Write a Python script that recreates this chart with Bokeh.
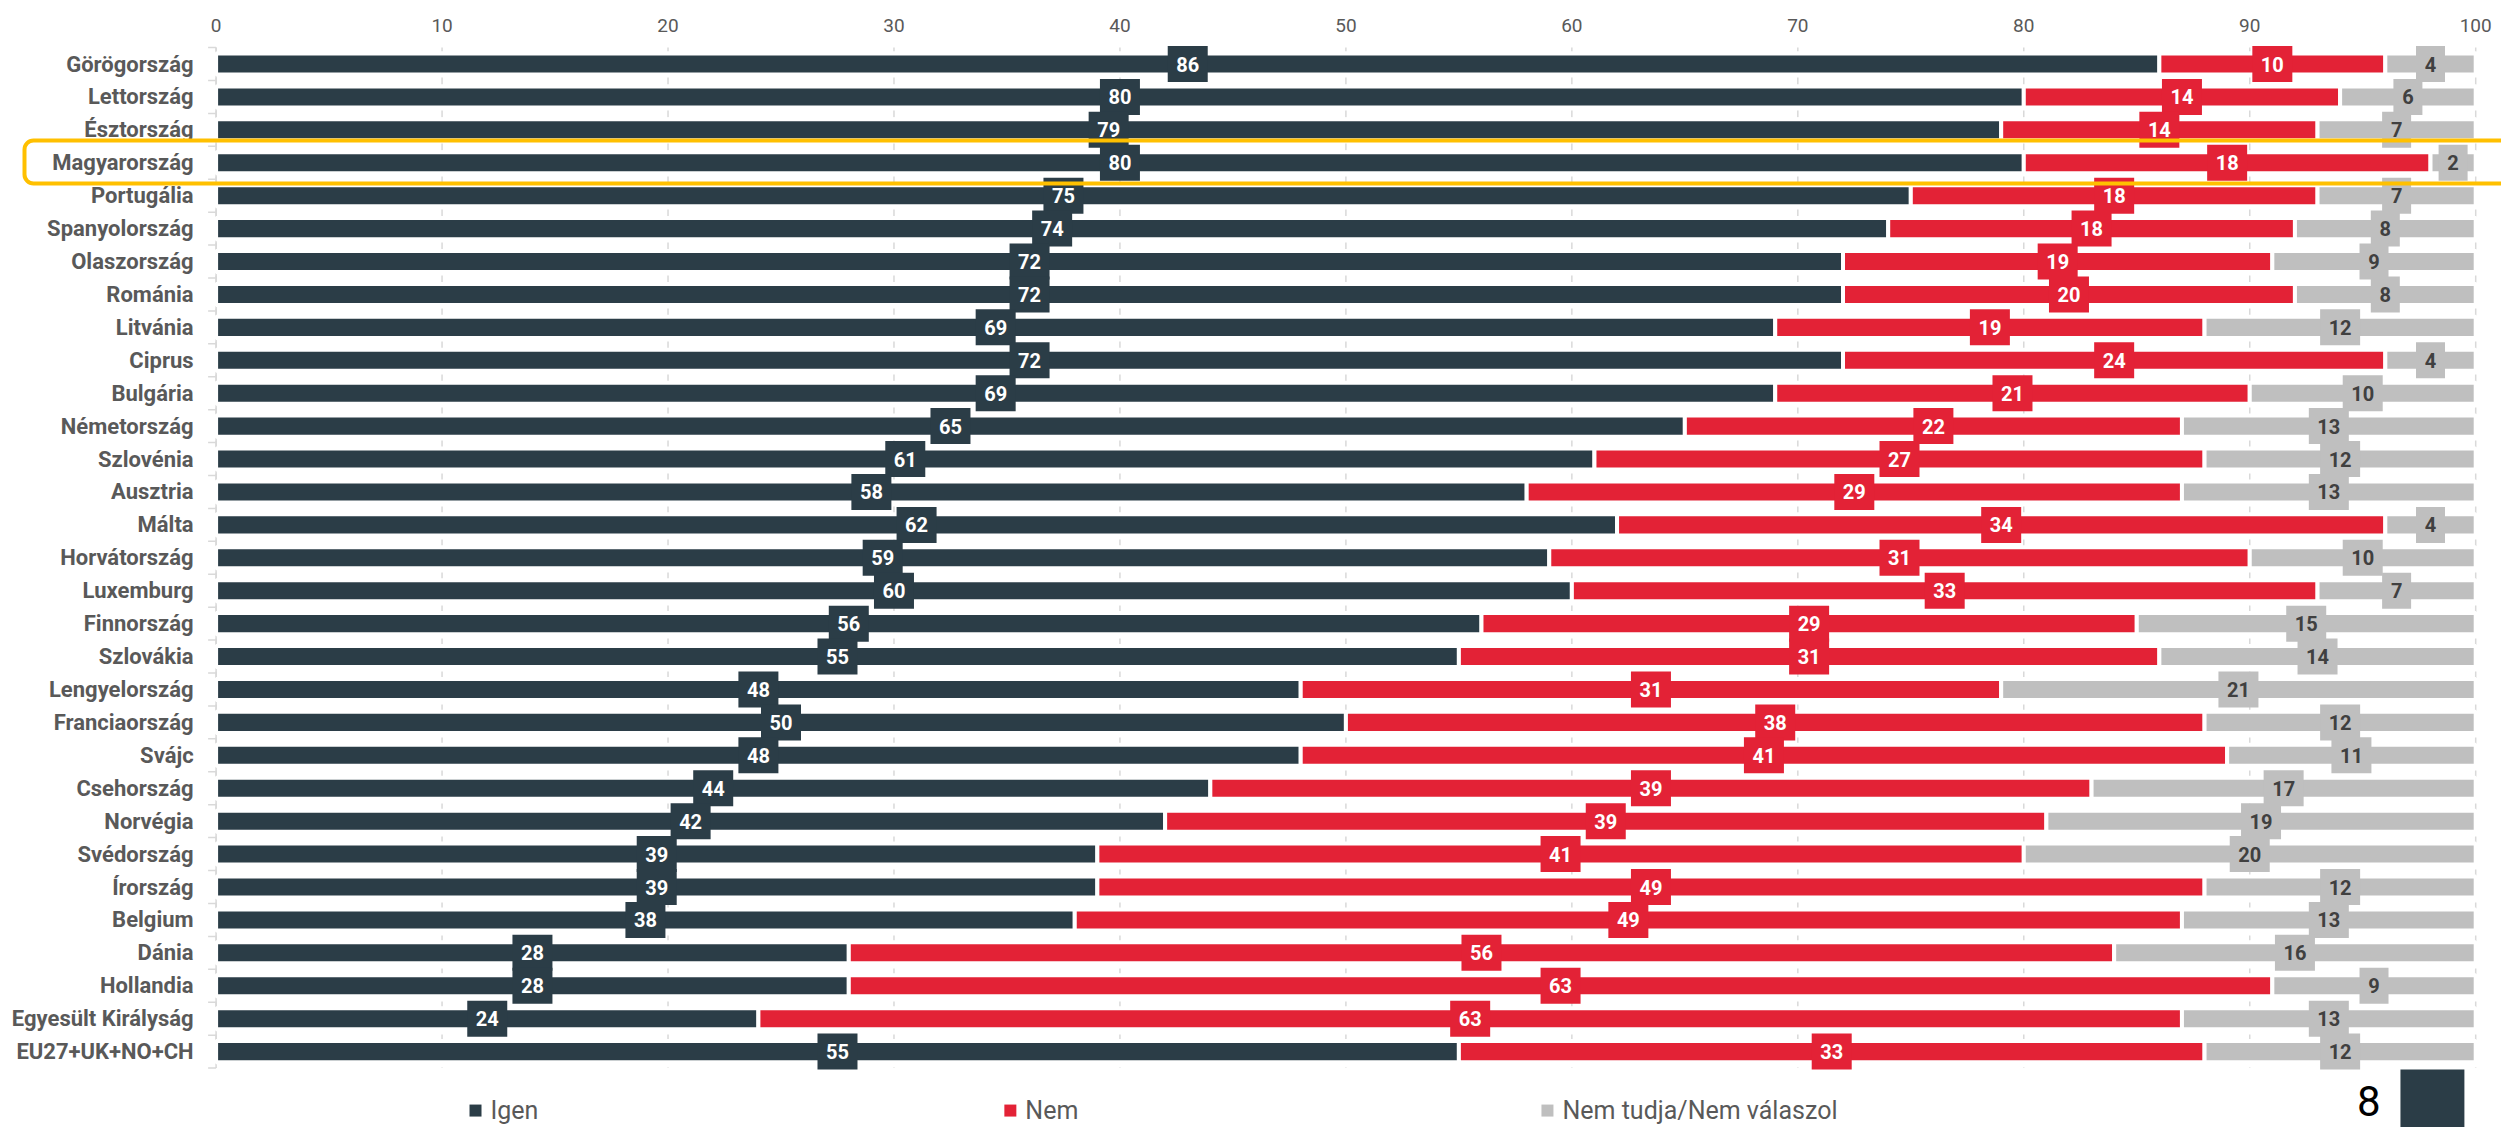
from bokeh.plotting import figure
from bokeh.models import Range1d, BoxAnnotation, Label, ColumnDataSource
from bokeh.core.properties import value
from bokeh.embed import file_html
from bokeh.resources import INLINE

# ---------------- data ----------------
countries = ["Görögország", "Lettország", "Észtország", "Magyarország", "Portugália",
             "Spanyolország", "Olaszország", "Románia", "Litvánia", "Ciprus",
             "Bulgária", "Németország", "Szlovénia", "Ausztria", "Málta",
             "Horvátország", "Luxemburg", "Finnország", "Szlovákia", "Lengyelország",
             "Franciaország", "Svájc", "Csehország", "Norvégia", "Svédország",
             "Írország", "Belgium", "Dánia", "Hollandia", "Egyesült Királyság",
             "EU27+UK+NO+CH"]
igen = [86, 80, 79, 80, 75, 74, 72, 72, 69, 72, 69, 65, 61, 58, 62, 59, 60, 56, 55,
        48, 50, 48, 44, 42, 39, 39, 38, 28, 28, 24, 55]
nem = [10, 14, 14, 18, 18, 18, 19, 20, 19, 24, 21, 22, 27, 29, 34, 31, 33, 29, 31,
       31, 38, 41, 39, 39, 41, 49, 49, 56, 63, 63, 33]
nem_tudja = [4, 6, 7, 2, 7, 8, 9, 8, 12, 4, 10, 13, 12, 13, 4, 10, 7, 15, 14,
             21, 12, 11, 17, 19, 20, 12, 13, 16, 9, 13, 12]
series_names = ["Igen", "Nem", "Nem tudja/Nem válaszol"]
x_ticks = [0, 10, 20, 30, 40, 50, 60, 70, 80, 90, 100]
highlight_country = "Magyarország"
page_number = "8"

# ---------------- style / layout ----------------
DARK = "#2B3D47"
RED = "#E32236"
GREY = "#BFBFBF"
TEXT = "#595959"
LIGHT = "#D9D9D9"
FONT = "Roboto"

W, H = 2501, 1127
PX_X = 22.596          # pixels per percentage point
X0_PX = 215.6          # canvas x of value 0
PX_Y = 32.92           # pixels per row
Y0_PX = 63.5           # canvas y of first row centre

n = len(countries)
rows = list(range(n))

p = figure(width=W, height=H,
           x_range=Range1d(-X0_PX / PX_X, (W - X0_PX) / PX_X),
           y_range=Range1d((H - Y0_PX) / PX_Y, -Y0_PX / PX_Y),
           x_axis_type=None, y_axis_type=None,
           output_backend="svg", toolbar_location=None,
           min_border=0)
p.outline_line_color = None
p.background_fill_color = "white"
p.border_fill_color = "white"
p.grid.visible = False


def px2x(dx):
    return dx / PX_X


def px2y(dy):
    return dy / PX_Y


top = -0.5
bottom = n - 0.5

# dashed vertical grid
p.segment(x0=x_ticks, x1=x_ticks, y0=[top] * len(x_ticks), y1=[bottom] * len(x_ticks),
          line_color=LIGHT, line_width=1.5, line_dash="7 26", line_dash_offset=3)

# y axis line + ticks between categories
bounds = [r - 0.5 for r in range(n + 1)]
p.segment(x0=[0], x1=[0], y0=[top], y1=[bottom], line_color=LIGHT, line_width=1.5)
p.segment(x0=[0] * len(bounds), x1=[-px2x(8)] * len(bounds), y0=bounds, y1=bounds,
          line_color=LIGHT, line_width=1.5)

series = [igen, nem, nem_tudja]
colors = [DARK, RED, GREY]
text_colors = ["white", "white", "#404040"]

lefts = []
rights = []
acc = [0] * n
for vals in series:
    lefts.append(list(acc))
    acc = [a + v for a, v in zip(acc, vals)]
    rights.append(list(acc))

for l, r, c in zip(lefts, rights, colors):
    src = ColumnDataSource(dict(y=rows, left=l, right=r))
    p.hbar(y="y", left="left", right="right", height=0.64, source=src,
           fill_color=c, line_color="white", line_width=4)

label_sources = []
for vals, l in zip(series, lefts):
    label_sources.append(ColumnDataSource(dict(
        x=[a + v / 2 for a, v in zip(l, vals)],
        y=rows,
        t=[str(v) for v in vals],
        w=[18 + 11 * len(str(v)) for v in vals],
    )))

for src, c in zip(label_sources, colors):
    p.rect(x="x", y="y", width="w", height=36, width_units="screen",
           height_units="screen", source=src, fill_color=c, line_color=None)
for src, tc in zip(label_sources, text_colors):
    p.text(x="x", y="y", text="t", source=src, text_align="center",
           text_baseline="middle", text_color=tc, text_font=value(FONT),
           text_font_style="bold", text_font_size="20px")

# category labels
p.text(x=[-px2x(22.5)] * n, y=rows, text=countries, text_align="right",
       text_baseline="middle", text_color=TEXT, text_font=value(FONT),
       text_font_style="bold", text_font_size="22px")

# top tick labels
p.text(x=x_ticks, y=[top - px2y(22)] * len(x_ticks), text=[str(t) for t in x_ticks],
       text_align="center", text_baseline="alphabetic", text_color=TEXT,
       text_font=value(FONT), text_font_size="19px")

# highlight box around Magyarország
hi = countries.index(highlight_country)
p.add_layout(BoxAnnotation(left=-px2x(191.6), right=106,
                           top=hi - px2y(22.3), bottom=hi + px2y(20.7),
                           fill_alpha=0, line_color="#FFC000", line_alpha=1,
                           line_width=4, border_radius=9, level="overlay"))

# legend (manual)
legend_y = bottom + px2y(42.5)
legend_x = [11.48, 35.15, 58.92]
p.rect(x=legend_x, y=[legend_y] * 3, width=12, height=12, width_units="screen",
       height_units="screen", fill_color=colors, line_color=None)
p.text(x=[lx + px2x(15) for lx in legend_x], y=[legend_y] * 3, text=series_names,
       text_align="left", text_baseline="middle", text_color=TEXT,
       text_font=value(FONT), text_font_size="25px")

# page number
p.add_layout(BoxAnnotation(left=96.67, right=99.50, top=bottom + px2y(1.5),
                           bottom=bottom + px2y(80),
                           fill_color=DARK, fill_alpha=1, line_color=None,
                           level="overlay"))
p.add_layout(Label(x=95.79, y=bottom + px2y(32.5), text=page_number,
                   text_align="right", text_baseline="middle", text_font=FONT,
                   text_font_size="42px", text_color="black"))

open("out.html", "w").write(file_html(p, INLINE))
